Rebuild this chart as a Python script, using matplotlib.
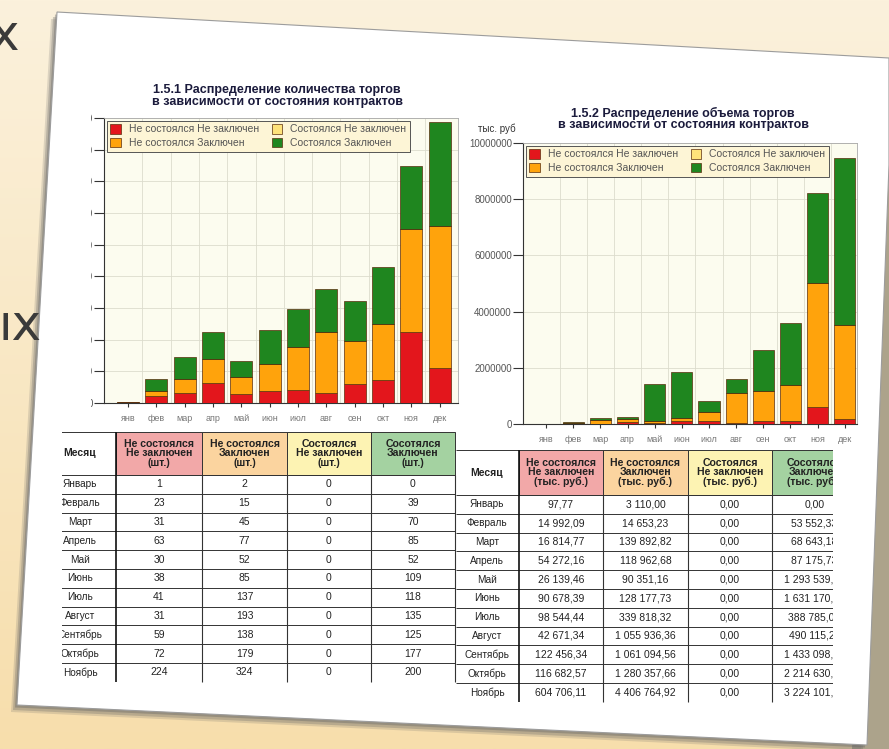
import numpy as np
import matplotlib
matplotlib.use('Agg')
import matplotlib.pyplot as plt
from matplotlib.patches import Polygon, Rectangle
from matplotlib.colors import LinearSegmentedColormap
from matplotlib.transforms import Bbox

plt.rcParams['font.family'] = ['Liberation Sans', 'DejaVu Sans']

#%% data
months_short = ['янв', 'фев', 'мар', 'апр', 'май', 'июн', 'июл', 'авг', 'сен', 'окт', 'ноя', 'дек']
months_full = ['Январь', 'Февраль', 'Март', 'Апрель', 'Май', 'Июнь', 'Июль', 'Август',
               'Сентябрь', 'Октябрь', 'Ноябрь']
legend_labels = ['Не состоялся Не заключен', 'Не состоялся Заключен',
                 'Состоялся Не заключен', 'Состоялся Заключен']

# 1.5.1 quantity (шт.), дек estimated from the bars
cnt_fail_noc = [1, 23, 31, 63, 30, 38, 41, 31, 59, 72, 224, 110]
cnt_fail_con = [2, 15, 45, 77, 52, 85, 137, 193, 138, 179, 324, 448]
cnt_ok_noc = [0, 0, 0, 0, 0, 0, 0, 0, 0, 0, 0, 0]
cnt_ok_con = [0, 39, 70, 85, 52, 109, 118, 135, 125, 177, 200, 329]

# 1.5.2 volume (тыс. руб.), дек estimated from the bars
vol_fail_noc = [97.77, 14992.09, 16814.77, 54272.16, 26139.46, 90678.39, 98544.44,
                42671.34, 122456.34, 116682.57, 604706.11, 180000.00]
vol_fail_con = [3110.00, 14653.23, 139892.82, 118962.68, 90351.16, 128177.73, 339818.32,
                1055936.36, 1061094.56, 1280357.66, 4406764.92, 3350000.00]
vol_ok_noc = [0.00, 0.00, 0.00, 0.00, 0.00, 0.00, 0.00, 0.00, 0.00, 0.00, 0.00, 0.00]
vol_ok_con = [0.00, 53552.33, 68643.18, 87175.73, 1293539.05, 1631170.25, 388785.04,
              490115.27, 1433098.71, 2214630.56, 3224101.71, 5920000.00]

count_ticks = [0, 100, 200, 300, 400, 500, 600, 700, 800, 900]
volume_ticks = [0, 2000000, 4000000, 6000000, 8000000, 10000000]

hdr_cnt = ['Не состоялся\nНе заключен\n(шт.)', 'Не состоялся\nЗаключен\n(шт.)',
           'Состоялся\nНе заключен\n(шт.)', 'Сосотялся\nЗаключен\n(шт.)']
hdr_vol = ['Не состоялся\nНе заключен\n(тыс. руб.)', 'Не состоялся\nЗаключен\n(тыс. руб.)',
           'Состоялся\nНе заключен\n(тыс. руб.)', 'Сосотялся\nЗаключен\n(тыс. руб.)']

bar_colors = ['#e3161c', '#ffa30c', '#ffe37a', '#1f861f']
hdr_colors = ['#f2a8a8', '#fbd49f', '#fdf3b3', '#a4d2a1']

#%% figure & background (photo of a tilted sheet on a slide)
W, H = 889, 749
fig = plt.figure(figsize=(W / 100, H / 100), dpi=100)

def px_axes(x0, y0, x1, y1):
    return fig.add_axes([x0 / W, 1 - y1 / H, (x1 - x0) / W, (y1 - y0) / H])

bg = px_axes(0, 0, W, H)
cmap = LinearSegmentedColormap.from_list('bg', ['#fbf1dc', '#f7deac'])
bg.imshow(np.linspace(0, 1, 256).reshape(-1, 1), extent=(0, W, H, 0),
          aspect='auto', cmap=cmap, zorder=0)
bg.add_patch(Polygon([(872, 168), (889, 163), (889, 749), (852, 749)],
                     fc='#aca38b', ec='none', zorder=1))
paper = [(57, 12), (889, 58), (889, 165), (867, 745), (17, 705)]
for (dx, dy), a in [((-6, 7), 0.2), ((-4, 5), 0.3), ((-2, 2.5), 0.4)]:
    bg.add_patch(Polygon([(x + dx, y + dy) for x, y in paper], fc='#666666',
                         alpha=a, ec='none', zorder=2))
bg.add_patch(Polygon(paper, fc='white', ec='#9c9c9c', lw=0.8, zorder=3))
# slide text peeking out at the left edge
bg.text(19, 50, 'х', ha='right', va='baseline', fontsize=36, color='#3a3a3a',
        family='DejaVu Sans')
bg.text(42, 340, 'ых', ha='right', va='baseline', fontsize=36, color='#3a3a3a',
        family='DejaVu Sans')
bg.set_xlim(0, W)
bg.set_ylim(H, 0)
bg.axis('off')

# chart titles
bg.text(277, 96, '1.5.1 Распределение количества торгов\nв зависимости от состояния контрактов',
        ha='center', va='center', fontsize=9, fontweight='bold', color='#1b1b3c',
        linespacing=0.95, zorder=5)
bg.text(683, 119, '1.5.2 Распределение объема торгов\nв зависимости от состояния контрактов',
        ha='center', va='center', fontsize=9, fontweight='bold', color='#1b1b3c',
        linespacing=0.95, zorder=5)
bg.text(478, 129, 'тыс. руб', ha='left', va='center', fontsize=7, color='#333333', zorder=5)

#%% stacked bar charts
def draw_chart(ax, series, yticks, xlim):
    x = np.arange(len(months_short))
    bottom = np.zeros(len(x))
    for vals, col, lab in zip(series, bar_colors, legend_labels):
        ax.bar(x, vals, 0.78, bottom=bottom, color=col, edgecolor='#5a2d0c',
               linewidth=0.5, label=lab, zorder=3)
        bottom += np.array(vals)
    ax.set_facecolor('#fcfcef')
    ax.set_xlim(*xlim)
    ax.set_ylim(yticks[0], yticks[-1])
    ax.set_yticks(yticks)
    ax.set_yticklabels([str(t) for t in yticks])
    ax.set_xticks(x)
    ax.set_xticklabels(months_short)
    ax.set_xticks(x[:-1] + 0.5, minor=True)
    ax.grid(True, axis='y', color='#dcdccd', lw=0.6, zorder=0)
    ax.grid(True, axis='x', which='minor', color='#dcdccd', lw=0.6, zorder=0)
    ax.tick_params(axis='y', labelsize=7, labelcolor='#555555', length=7, pad=1,
                   color='#333333')
    ax.tick_params(axis='x', labelsize=6.5, labelcolor='#777777', length=3, pad=5,
                   color='#333333')
    ax.tick_params(axis='x', which='minor', length=0)
    for s in ['left', 'bottom']:
        ax.spines[s].set_color('#333333')
        ax.spines[s].set_linewidth(0.8)
    for s in ['top', 'right']:
        ax.spines[s].set_color('#aaaaaa')
        ax.spines[s].set_linewidth(0.6)
    leg = ax.legend(loc='upper left', ncol=2, fontsize=7.5, frameon=True,
                    facecolor='#fdf5d6', edgecolor='#555555', framealpha=1,
                    fancybox=False, handlelength=1.0, handleheight=1.0,
                    columnspacing=1.2, borderpad=0.35, labelspacing=0.35,
                    borderaxespad=0.25, handletextpad=0.8)
    leg.get_frame().set_linewidth(0.7)
    for t in leg.get_texts():
        t.set_color('#555555')

ax1 = px_axes(104, 118, 458, 403)
draw_chart(ax1, [cnt_fail_noc, cnt_fail_con, cnt_ok_noc, cnt_ok_con], count_ticks, (-0.85, 11.65))
# the scan cuts the left y labels off, only the last digit's edge is left
clip = Bbox.from_extents(91, 0, W, H)
for t in ax1.yaxis.get_major_ticks():
    t.label1.set_clip_on(True)
    t.label1.set_clip_box(clip)

ax2 = px_axes(523, 143, 857, 424)
draw_chart(ax2, [vol_fail_noc, vol_fail_con, vol_ok_noc, vol_ok_con], volume_ticks, (-0.85, 11.45))

#%% tables
def fmt_rub(v):
    return '{:,.2f}'.format(v).replace(',', ' ').replace('.', ',')

def draw_table(box, edges, month_x, head_h, row_h, headers, columns, fmt):
    x0, y0, x1, y1 = box
    ax = px_axes(x0, y0, x1, y1)
    ax.set_xlim(x0, x1)
    ax.set_ylim(y1, y0)
    ax.axis('off')
    top = y0 + 4
    n = len(months_full)
    bot = top + head_h + n * row_h
    for i, (h, c) in enumerate(zip(headers, hdr_colors)):
        ax.add_patch(Rectangle((edges[i + 1], top), edges[i + 2] - edges[i + 1], head_h,
                               fc=c, ec='#333333', lw=0.7))
        ax.text((edges[i + 1] + edges[i + 2]) / 2, top + head_h / 2, h, ha='center',
                va='center', fontsize=7.6, fontweight='bold', color='#222222',
                linespacing=0.88, clip_on=True)
    ax.text(month_x, top + head_h / 2, 'Месяц', ha='center', va='center', fontsize=7.5,
            fontweight='bold', color='#222222', clip_on=True)
    ax.hlines(top, edges[0], edges[1], color='#333333', lw=0.7)
    for r in range(n):
        yl = top + head_h + r * row_h
        ax.hlines(yl, edges[0], edges[-1], color='#333333', lw=0.7)
        yc = yl + row_h / 2
        ax.text(month_x, yc, months_full[r], ha='center', va='center', fontsize=7.2,
                color='#222222', clip_on=True)
        for j, col in enumerate(columns):
            ax.text((edges[j + 1] + edges[j + 2]) / 2, yc, fmt(col[r]), ha='center',
                    va='center', fontsize=7.5, color='#222222', clip_on=True)
    ax.vlines(edges[1], top, bot, color='#111111', lw=1.2)
    for e in edges[2:]:
        ax.vlines(e, top + head_h, bot, color='#333333', lw=0.8)

draw_table((62, 428, 458, 702), [40, 116, 202, 287, 371, 455], 80, 43, 18.8,
           hdr_cnt, [cnt_fail_noc, cnt_fail_con, cnt_ok_noc, cnt_ok_con], str)
draw_table((452, 446, 833, 720), [456, 519, 603, 688, 772, 857], 487, 45, 18.8,
           hdr_vol, [vol_fail_noc, vol_fail_con, vol_ok_noc, vol_ok_con], fmt_rub)

fig.savefig('out.png', dpi=100)
